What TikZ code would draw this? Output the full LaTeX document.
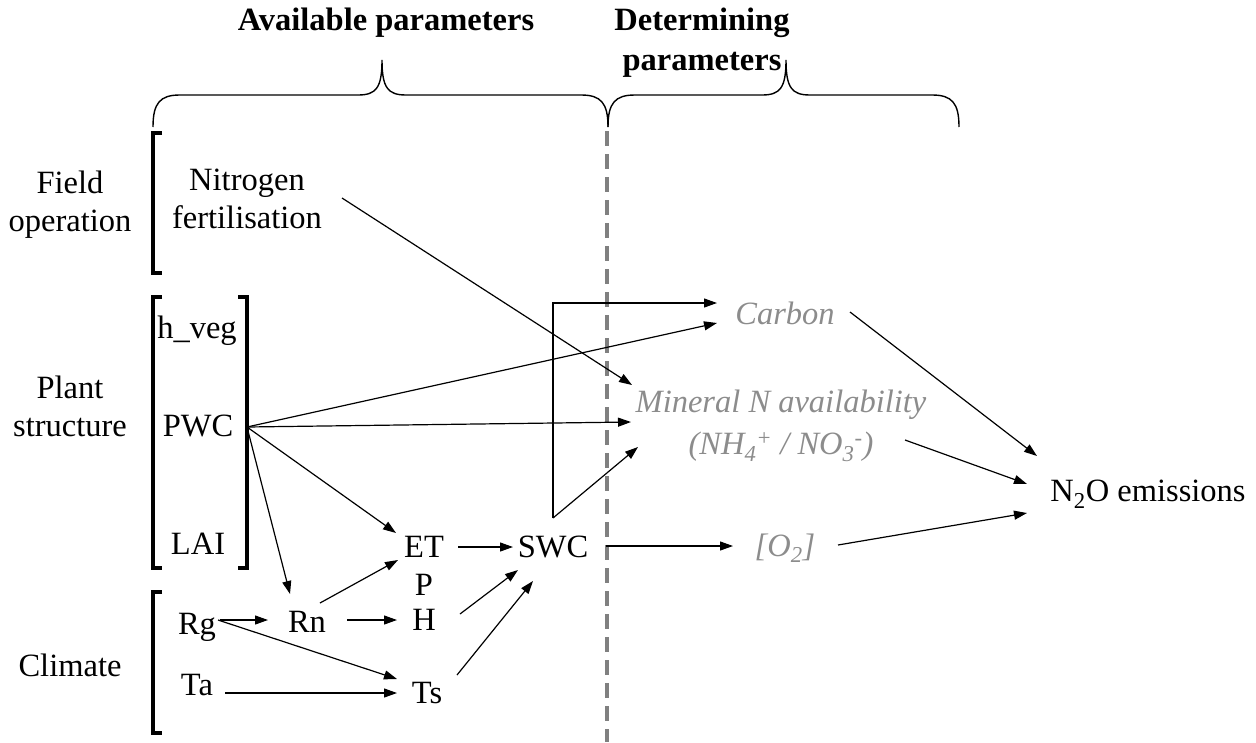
\documentclass[tikz,border=0pt]{standalone}
\usepackage{fontspec}
\setmainfont{Liberation Serif}
\usetikzlibrary{arrows.meta}
\definecolor{lgray}{RGB}{140,140,140}
\definecolor{dgray}{RGB}{128,128,128}
\begin{document}
\begin{tikzpicture}[x=1pt,y=-1pt,
  lbl/.style={font=\fontsize{32.5}{38}\selectfont, inner sep=0pt, align=center},
  one/.style={lbl, text height=26pt, text depth=3pt},
  det/.style={lbl, text=lgray, font=\fontsize{32.5}{42}\selectfont\itshape},
  hdr/.style={lbl, font=\fontsize{32.5}{40}\selectfont\bfseries},
  arr/.style={-{Triangle[length=13pt,width=9pt]}, line width=1.2pt},
  brk/.style={line width=3.4pt, line cap=butt, line join=miter},
  brc/.style={line width=1.4pt},
  divider/.style={dgray, line width=3.2pt, dash pattern=on 15pt off 8pt}
]
\useasboundingbox (0,0) rectangle (1256,742);

% headers
\node[hdr] (avail) at (386,23) {Available parameters};
\node[hdr] (determ) at (702,43) {Determining\\parameters};

% braces
\draw[brc] (153,127) .. controls (153,103) and (160,95) .. (180,95) -- (358,95)
  .. controls (376,95) and (382,88) .. (382,60)
  .. controls (382,88) and (388,95) .. (406,95) -- (581,95)
  .. controls (601,95) and (608,103) .. (608,127);
\draw[brc] (608,127) .. controls (608,103) and (615,95) .. (635,95) -- (762,95)
  .. controls (780,95) and (786,88) .. (786,60)
  .. controls (786,88) and (792,95) .. (810,95) -- (932,95)
  .. controls (952,95) and (959,103) .. (959,127);

% divider
\draw[divider] (607,131) -- (607,742);

% brackets
\draw[brk] (162,133) -- (153,133) -- (153,273) -- (162,273);
\draw[brk] (162,297) -- (153,297) -- (153,568) -- (162,568);
\draw[brk] (238,297) -- (247,297) -- (247,568) -- (238,568);
\draw[brk] (162,592) -- (153,592) -- (153,733) -- (162,733);

% group labels
\node[lbl] (fieldop) at (70,205) {Field\\operation};
\node[lbl] (plant) at (70,406) {Plant\\structure};
\node[one] (climate) at (70,665) {Climate};

% nodes
\node[lbl] (nf) at (247,199) {Nitrogen\\fertilisation};
\node[one] (hveg) at (197,327) {h\_veg};
\node[one] (pwc) at (198,425) {PWC};
\node[one] (lai) at (198,543) {LAI};
\node[one] (rg) at (197,623) {Rg};
\node[one] (ta) at (197,684) {Ta};
\node[one] (rn) at (307,621) {Rn};
\node[one] (et) at (424,546) {ET};
\node[one] (p) at (424,584) {P};
\node[one] (h) at (424,619) {H};
\node[one] (ts) at (427,692) {Ts};
\node[one] (swc) at (553,546) {SWC};
\node[det] (carbon) at (785,313) {Carbon};
\node[det] (minN) at (781,426) {Mineral N availability\\(NH\textsubscript{4}\textsuperscript{+} / NO\textsubscript{3}\textsuperscript{-})};
\node[det] (o2) at (785,548) {[O\textsubscript{2}]};
\node[lbl] (n2o) at (1148,494) {N\textsubscript{2}O emissions};

% connectors
\draw[arr] ([shift={(95,-1)}]nf.center) -- ([shift={(-149,-41)}]minN.center);
\draw[arr] ([shift={(49,2)}]pwc.center) -- ([shift={(-68,10)}]carbon.center);
\draw[arr] ([shift={(49,2)}]pwc.center) -- ([shift={(-150,-4)}]minN.center);
\draw[arr] ([shift={(49,2)}]pwc.center) -- ([shift={(-28,-13)}]et.center);
\draw[arr] ([shift={(49,2)}]pwc.center) -- ([shift={(-17,-27)}]rn.center);
\draw[arr] ([shift={(0,-28)}]swc.center) |- ([shift={(-68,-10)}]carbon.center);
\draw[arr] ([shift={(0,-28)}]swc.center) -- ([shift={(-143,21)}]minN.center);
\draw[arr] ([shift={(53,0)}]swc.center) -- ([shift={(-52,-2)}]o2.center);
\draw[arr] ([shift={(65,-1)}]carbon.center) -- ([shift={(-111,-38)}]n2o.center);
\draw[arr] ([shift={(124,14)}]minN.center) -- ([shift={(-121,-10)}]n2o.center);
\draw[arr] ([shift={(53,-3)}]o2.center) -- ([shift={(-121,19)}]n2o.center);
\draw[arr] ([shift={(34,1)}]et.center) -- ([shift={(-40,1)}]swc.center);
\draw[arr] ([shift={(23,-3)}]rg.center) -- ([shift={(-39,-1)}]rn.center);
\draw[arr] ([shift={(40,-1)}]rn.center) -- ([shift={(-27,1)}]h.center);
\draw[arr] ([shift={(13,-18)}]rn.center) -- ([shift={(-26,14)}]et.center);
\draw[arr] ([shift={(21,-3)}]rg.center) -- ([shift={(-30,-13)}]ts.center);
\draw[arr] ([shift={(28,9)}]ta.center) -- ([shift={(-30,1)}]ts.center);
\draw[arr] ([shift={(36,-5)}]h.center) -- ([shift={(-35,24)}]swc.center);
\draw[arr] ([shift={(30,-17)}]ts.center) -- ([shift={(-20,35)}]swc.center);
\end{tikzpicture}
\end{document}
